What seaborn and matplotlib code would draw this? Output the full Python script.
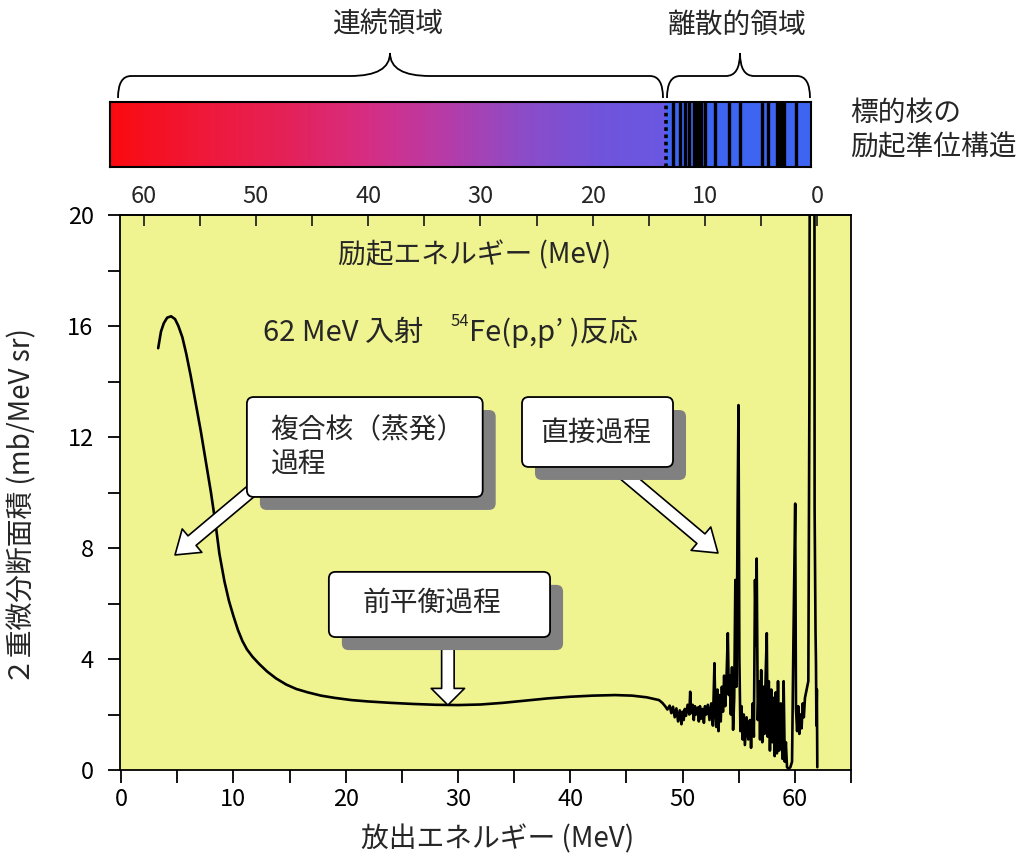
import matplotlib
matplotlib.use("Agg")
import numpy as np
import matplotlib.pyplot as plt
import seaborn as sns
from matplotlib.patches import FancyBboxPatch, FancyArrowPatch, PathPatch, ArrowStyle
from matplotlib.path import Path
from matplotlib.colors import LinearSegmentedColormap, Normalize
from matplotlib.ticker import MultipleLocator

# ---------------------------------------------------------------------------
# 62 MeV 54Fe(p,p') spectrum: outgoing proton energy (MeV) and
# double-differential cross section (mb/MeV sr)
# ---------------------------------------------------------------------------
e_continuum = [3.30, 3.55, 3.80, 4.10, 4.45, 4.80, 5.10, 5.45, 5.80, 6.20,
               6.65, 7.10, 7.55, 8.00, 8.40, 8.75, 9.20, 9.60, 10.00, 10.40,
               10.80, 11.20, 11.70, 12.30, 13.00, 13.80, 14.70, 15.60, 16.60,
               17.80, 19.00, 20.50, 22.00, 24.00, 26.00, 28.00, 30.00, 32.00,
               34.00, 36.00, 38.00, 40.00, 42.00, 44.00, 45.50, 46.80, 47.90]
xs_continuum = [15.2, 15.8, 16.1, 16.3, 16.35, 16.25, 16.0, 15.6, 15.0, 14.2,
                13.2, 12.2, 11.1, 10.0, 8.9, 7.8, 6.8, 6.1, 5.55, 5.05,
                4.65, 4.35, 4.08, 3.82, 3.55, 3.3, 3.08, 2.92, 2.8,
                2.68, 2.6, 2.52, 2.47, 2.42, 2.38, 2.35, 2.34, 2.36,
                2.42, 2.5, 2.58, 2.64, 2.68, 2.7, 2.68, 2.62, 2.52]

e_discrete = [48.20, 48.45, 48.65, 48.85, 49.00, 49.15, 49.30, 49.45, 49.60, 49.75,
              49.90, 50.00, 50.10, 50.20, 50.30, 50.45, 50.60, 50.68, 50.76, 50.90,
              51.00, 51.10, 51.20, 51.35, 51.45, 51.55, 51.65, 51.80, 51.90, 52.00,
              52.10, 52.25, 52.40, 52.55, 52.70, 52.84, 52.92, 53.00, 53.10, 53.20,
              53.30, 53.40, 53.50, 53.60, 53.70, 53.80, 53.90, 54.03, 54.12, 54.20,
              54.30, 54.40, 54.50, 54.60, 54.70, 54.80, 54.90, 54.98, 55.06, 55.15,
              55.25, 55.35, 55.45, 55.55, 55.70, 55.85, 56.00, 56.10, 56.25, 56.35,
              56.45, 56.55, 56.60, 56.70, 56.80, 56.90, 57.00, 57.10, 57.20, 57.30,
              57.40, 57.50, 57.58, 57.68, 57.78, 57.90, 58.00, 58.10, 58.20, 58.30,
              58.40, 58.50, 58.60, 58.75, 58.90, 59.00, 59.10, 59.20, 59.30, 59.45,
              59.60, 59.75, 59.87, 60.03, 60.10, 60.20, 60.30, 60.40, 60.50, 60.60,
              60.70, 60.80, 60.90, 61.05, 61.20, 61.30, 61.40, 61.55, 61.70, 61.76,
              61.80, 61.84, 61.88, 61.92, 61.96, 62.00]
xs_discrete = [2.42, 2.30, 2.18, 2.32, 2.05, 2.28, 1.90, 2.22, 1.75, 2.15,
               1.65, 2.10, 1.80, 2.20, 1.95, 2.35, 2.00, 2.82, 2.05, 2.35,
               1.80, 2.30, 2.00, 2.25, 1.75, 2.30, 1.85, 2.20, 1.70, 2.30,
               2.00, 2.35, 1.80, 2.40, 1.60, 3.85, 2.10, 1.55, 2.90, 1.40,
               2.70, 1.75, 3.00, 2.10, 3.40, 2.30, 3.10, 4.93, 2.70, 3.40,
               2.00, 3.70, 1.45, 2.60, 6.85, 3.00, 9.20, 13.15, 4.00, 1.40,
               2.30, 1.10, 2.00, 0.90, 1.90, 1.10, 1.80, 0.80, 2.40, 1.20,
               6.85, 4.50, 7.62, 1.80, 3.20, 1.10, 3.60, 1.00, 3.00, 1.30,
               3.40, 4.93, 1.20, 3.20, 0.70, 2.90, 1.00, 2.60, 0.50, 2.80,
               0.60, 3.20, 0.70, 2.40, 0.40, 3.20, 0.30, 1.00, 0.10, 0.05,
               0.10, 0.30, 4.60, 9.60, 2.20, 1.40, 2.30, 1.30, 2.00, 1.50,
               2.40, 1.90, 2.60, 2.90, 3.20, 14.0, 45.0, 95.0, 60.0, 9.40,
               7.00, 5.00, 3.90, 1.60, 2.90, 0.10]

e_out = e_continuum + e_discrete
sigma = xs_continuum + xs_discrete

beam_energy = 62.0          # incident proton energy (MeV)
continuum_edge = 13.5       # boundary between continuum and discrete levels (Ex, MeV)

# excited levels of 54Fe drawn in the discrete region (Ex, MeV)
levels = [12.8, 12.2, 11.8, 11.45, 10.95, 10.8, 10.65, 10.5, 10.35, 10.0,
          9.1, 7.85, 6.85, 4.9, 4.36, 3.55, 3.4, 3.25, 3.1, 2.95, 1.85]

# colour stops of the continuum band (Ex, colour)
band_ex = [13.5, 19.0, 26.0, 33.0, 40.0, 47.0, 55.0, 63.0]
band_colors = ["#6a58e2", "#7054dc", "#8c4cc8", "#b63ca8", "#d62e84",
               "#e4225a", "#f01838", "#fb0a10"]
discrete_color = "#3e64f2"

# ---------------------------------------------------------------------------
sns.set_theme(style="ticks")
plt.rcParams["font.family"] = ["Noto Sans CJK JP", "DejaVu Sans"]
plt.rcParams["axes.linewidth"] = 1.3

W, H = 1036, 859
fig = plt.figure(figsize=(W / 100, H / 100), dpi=100)
fig.patch.set_facecolor("white")


def fx(px):
    return px / W


def fy(py):
    return 1 - py / H


# ---------------------------------------------------------------- main axes
ax = fig.add_axes([fx(120), fy(770), 731 / W, 555 / H])
ax.set_facecolor("#f0f490")
sns.lineplot(x=e_out, y=sigma, ax=ax, color="black", lw=1.9,
             sort=False, estimator=None, zorder=2)
ax.set_xlim(-0.1, 65)
ax.set_ylim(0, 20)
ax.xaxis.set_major_locator(MultipleLocator(10))
ax.xaxis.set_minor_locator(MultipleLocator(5))
ax.yaxis.set_major_locator(MultipleLocator(4))
ax.yaxis.set_minor_locator(MultipleLocator(2))
ax.tick_params(axis="both", which="both", direction="out", length=9,
               width=1.3, colors="black", labelsize=17)
ax.tick_params(axis="x", pad=4)
ax.tick_params(axis="y", pad=10)
for s in ax.spines.values():
    s.set_color("black")
    s.set_linewidth(1.3)

ax.set_xlabel("放出エネルギー (MeV)", fontsize=20)
ax.xaxis.set_label_coords(0.516, -0.098)
ax.set_ylabel("２重微分断面積 (mb/MeV sr)", fontsize=20)
ax.yaxis.set_label_coords(-0.113, 0.475)

sec = ax.secondary_xaxis("top", functions=(lambda e: beam_energy - e,
                                           lambda x: beam_energy - x))
sec.xaxis.set_major_locator(MultipleLocator(10))
sec.xaxis.set_minor_locator(MultipleLocator(5))
sec.tick_params(which="both", direction="in", length=8, width=1.3,
                labelsize=17, pad=5)
sec.spines["top"].set_linewidth(1.3)

ax.text(31.5, 18.56, "励起エネルギー (MeV)", fontsize=20, ha="center",
        va="center", zorder=6)

# reaction label with a superscript mass number
t1 = ax.text(12.6, 15.2, "62 MeV 入射", fontsize=21, ha="left",
             va="bottom", zorder=6)
t2 = ax.annotate("54", xy=(1, 0), xycoords=t1, xytext=(20, 13),
                 textcoords="offset points", fontsize=12, ha="left",
                 va="bottom", zorder=6)
ax.annotate("Fe(p,p’ )反応", xy=(1, 0), xycoords=t2, xytext=(0, -13),
            textcoords="offset points", fontsize=21, ha="left",
            va="bottom", zorder=6)

# ---------------------------------------------------------------- callouts
px_x = 731 / 65.1        # pixels per MeV
px_y = 555 / 20.0        # pixels per mb/MeV sr
aspect = px_x / px_y
sdx, sdy = 13 / px_x, 13 / px_y


def callout(x0, x1, y0, y1):
    shadow = FancyBboxPatch((x0 + sdx, y0 - sdy), x1 - x0, y1 - y0,
                            boxstyle="round,pad=0,rounding_size=0.6",
                            mutation_aspect=aspect, fc="#808080", ec="none",
                            zorder=4)
    box = FancyBboxPatch((x0, y0), x1 - x0, y1 - y0,
                         boxstyle="round,pad=0,rounding_size=0.6",
                         mutation_aspect=aspect, fc="white", ec="black",
                         lw=1.3, zorder=5)
    ax.add_patch(shadow)
    ax.add_patch(box)


def block_arrow(start, tip, head_length=16, head_width=22, tail_width=9):
    arr = FancyArrowPatch(start, tip,
                          arrowstyle=ArrowStyle.Simple(head_length=head_length,
                                                       head_width=head_width,
                                                       tail_width=tail_width),
                          mutation_scale=1, fc="white", ec="black", lw=1.2,
                          shrinkA=0, shrinkB=0, zorder=3)
    ax.add_patch(arr)


callout(11.2, 32.2, 9.84, 13.44)
ax.text(13.3, 11.62, "複合核（蒸発）\n過程", fontsize=20, ha="left",
        va="center", zorder=6, linespacing=1.2)
block_arrow((12.6, 10.4), (4.8, 7.75))

callout(35.7, 49.15, 10.92, 13.44)
ax.text(42.3, 12.14, "直接過程", fontsize=20, ha="center", va="center",
        zorder=6)
block_arrow((44.4, 10.8), (53.15, 7.82))

callout(18.5, 38.2, 4.79, 7.14)
ax.text(27.7, 6.02, "前平衡過程", fontsize=20, ha="center", va="center",
        zorder=6)
block_arrow((29.1, 5.4), (29.1, 2.34), head_length=12, head_width=24,
            tail_width=9)

# ------------------------------------------------------------ level band
bar = fig.add_axes([fx(110), fy(167), 701 / W, 65 / H])
bar.set_xlim(63.0, 0.55)
bar.set_ylim(0, 1)
pos = [(e - band_ex[0]) / (band_ex[-1] - band_ex[0]) for e in band_ex]
cmap = LinearSegmentedColormap.from_list("band", list(zip(pos, band_colors)))
grid = np.linspace(band_ex[0], band_ex[-1], 600)[None, :]
bar.imshow(grid, cmap=cmap, norm=Normalize(band_ex[0], band_ex[-1]),
           extent=(band_ex[0], band_ex[-1], 0, 1), aspect="auto",
           origin="lower")
bar.set_xlim(63.0, 0.55)
bar.axvspan(continuum_edge, 0.0, color=discrete_color, lw=0)
bar.vlines(levels, 0, 1, colors="black", lw=2.4)
bar.axvline(continuum_edge, color="black", lw=2.6, ls=(0, (1, 1)))
bar.set_xticks([])
bar.set_yticks([])
for s in bar.spines.values():
    s.set_color("black")
    s.set_linewidth(1.5)

# ------------------------------------------------------------ braces
ov = fig.add_axes([0, 0, 1, 1], zorder=10)
ov.set_xlim(0, W)
ov.set_ylim(H, 0)
ov.axis("off")
ov.patch.set_alpha(0)


def brace(x0, x1, xm, yb=98, yh=76, yt=53, r=13, r2=30):
    verts = [(x0, yb), (x0, yh), (x0 + r, yh),
             (xm - r2, yh), (xm, yh), (xm, yt),
             (xm, yh), (xm + r2, yh),
             (x1 - r, yh), (x1, yh), (x1, yb)]
    codes = [Path.MOVETO, Path.CURVE3, Path.CURVE3,
             Path.LINETO, Path.CURVE3, Path.CURVE3,
             Path.CURVE3, Path.CURVE3,
             Path.LINETO, Path.CURVE3, Path.CURVE3]
    ov.add_patch(PathPatch(Path(verts, codes), fill=False, ec="black",
                           lw=1.3))


brace(118, 663, 390, r2=40)
brace(667, 810, 740, r2=14)

fig.text(fx(388), fy(25), "連続領域", fontsize=20, ha="center", va="center")
fig.text(fx(737), fy(25), "離散的領域", fontsize=20, ha="center", va="center")
fig.text(fx(850), fy(113), "標的核の", fontsize=20, ha="left", va="center")
fig.text(fx(850), fy(147), "励起準位構造", fontsize=20, ha="left", va="center")

fig.savefig("out.png", dpi=100)
